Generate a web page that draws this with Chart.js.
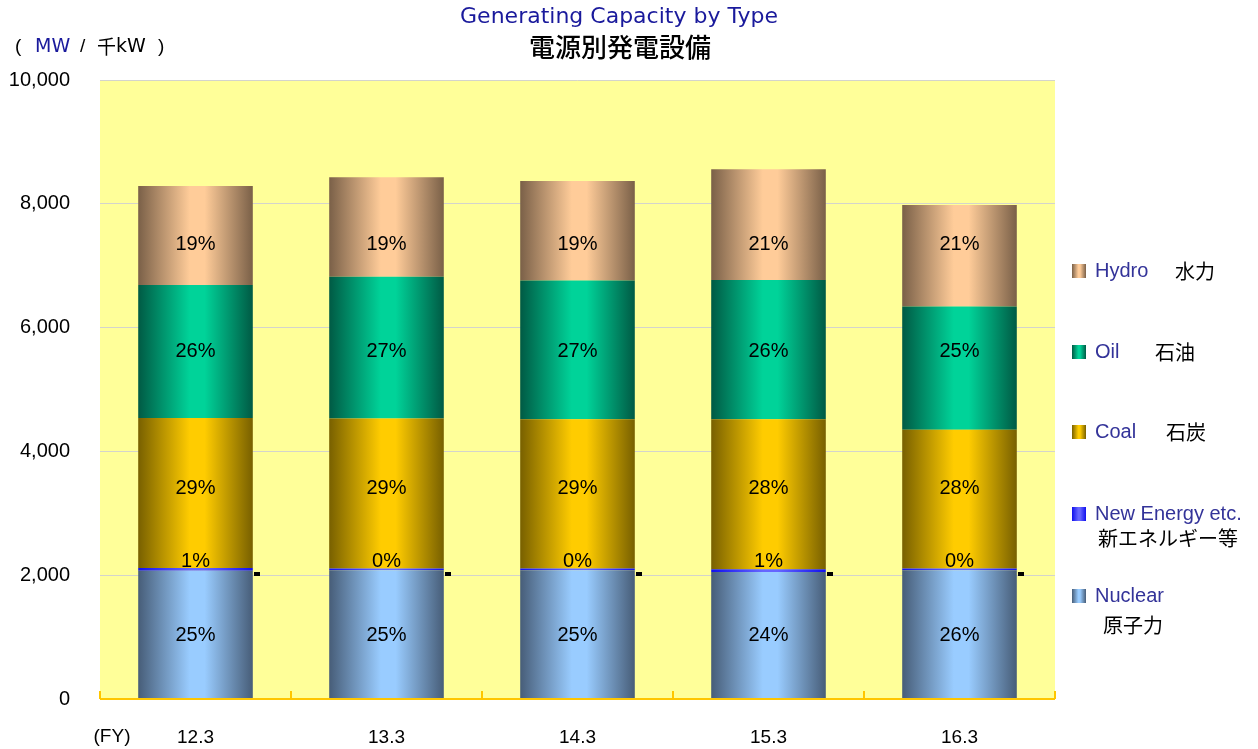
<!DOCTYPE html>
<html>
<head>
<meta charset="utf-8">
<script src="https://cdn.jsdelivr.net/npm/chart.js@4/dist/chart.umd.min.js"></script>
<style>
  body { margin: 0; background: #fff; }
  canvas { display: block; }
</style>
</head>
<body>
<canvas id="myChart" width="1258" height="749"></canvas>
<script>
// fiscal years (end of March)
const years = ['12.3', '13.3', '14.3', '15.3', '16.3'];

// generating capacity, MW
const nuclear   = [2070, 2080, 2080, 2050, 2080];
const newEnergy = [45, 30, 30, 45, 30];
const coal      = [2425, 2420, 2410, 2425, 2240];
const oil       = [2148, 2290, 2240, 2250, 1990];
const hydro     = [1600, 1610, 1610, 1790, 1640];

const yTicks = [0, 2000, 4000, 6000, 8000, 10000];

const totals = years.map((_, i) => nuclear[i] + newEnergy[i] + coal[i] + oil[i] + hydro[i]);

const FONT = '"Liberation Sans", Arial, sans-serif';
const WFONT = '"DejaVu Sans", sans-serif';
const JFONT = '"Noto Sans CJK JP", sans-serif';

// dark edge / bright centre, gives the bars a cylinder look
function shade(g, dark, light) {
  g.addColorStop(0, dark);
  g.addColorStop(0.45, light);
  g.addColorStop(0.58, light);
  g.addColorStop(1, dark);
  return g;
}

function cylinder(dark, light) {
  return function (context) {
    const chart = context.chart;
    const area = chart.chartArea;
    if (!area || context.type !== 'data') return light;
    const x = chart.scales.x.getPixelForValue(context.dataIndex);
    const half = (area.width / years.length) * 0.6 / 2;
    const g = chart.ctx.createLinearGradient(x - half, 0, x + half, 0);
    return shade(g, dark, light);
  };
}

const series = [
  { label: 'Nuclear', jp: '原子力', data: nuclear, dark: '#475d78', light: '#99ccff' },
  { label: 'New Energy etc.', jp: '新エネルギー等', data: newEnergy, dark: '#1010ee', light: '#6666ff' },
  { label: 'Coal', jp: '石炭', data: coal, dark: '#786000', light: '#ffcc00' },
  { label: 'Oil', jp: '石油', data: oil, dark: '#005a44', light: '#00d399' },
  { label: 'Hydro', jp: '水力', data: hydro, dark: '#7a6048', light: '#ffcc99' }
];

// value height where each series' percentage is written
const labelLevels = [1020, 2220, 3400, 5620, 7350];

// legend rows: swatch/English line centre, Japanese position
const legendRows = [
  { s: 4, y: 271, jx: 1175, jy: 271 },
  { s: 3, y: 352, jx: 1155, jy: 352 },
  { s: 2, y: 432, jx: 1166, jy: 432 },
  { s: 1, y: 514, jx: 1098, jy: 538 },
  { s: 0, y: 596, jx: 1103, jy: 625 }
];

const decorations = {
  id: 'decorations',
  beforeDraw(chart) {
    const { ctx, chartArea: a } = chart;
    ctx.save();
    ctx.fillStyle = '#ffff99';
    ctx.fillRect(a.left, a.top, a.right - a.left, a.bottom - a.top);
    ctx.restore();
  },
  afterDatasetsDraw(chart) {
    const { ctx, chartArea: a, scales } = chart;
    const x = scales.x, y = scales.y;
    ctx.save();

    // bottom axis with upward tick marks between categories
    ctx.strokeStyle = '#ffc600';
    ctx.lineWidth = 2;
    ctx.beginPath();
    ctx.moveTo(a.left, a.bottom);
    ctx.lineTo(a.right, a.bottom);
    for (let i = 0; i <= years.length; i++) {
      const px = Math.round(x.getPixelForValue(i - 0.5));
      ctx.moveTo(px, a.bottom);
      ctx.lineTo(px, a.bottom - 8);
    }
    ctx.stroke();

    // small black marks at the right of each bar
    const bars = chart.getDatasetMeta(0).data;
    ctx.fillStyle = '#000';
    bars.forEach(b => {
      ctx.fillRect(Math.round(b.x + b.width / 2) + 1, Math.round(y.getPixelForValue(2020)) - 2, 6, 4);
    });

    // percentage labels
    ctx.font = '20px ' + FONT;
    ctx.textAlign = 'center';
    ctx.textBaseline = 'middle';
    ctx.fillStyle = '#000';
    series.forEach((s, si) => {
      const meta = chart.getDatasetMeta(si);
      meta.data.forEach((b, i) => {
        const pct = Math.round(s.data[i] / totals[i] * 100);
        ctx.fillText(pct + '%', b.x, y.getPixelForValue(labelLevels[si]));
      });
    });

    ctx.restore();
  },
  afterDraw(chart) {
    const { ctx } = chart;
    ctx.save();
    ctx.textBaseline = 'middle';

    // titles
    ctx.textAlign = 'center';
    ctx.fillStyle = '#1a1a9c';
    ctx.font = '22px ' + WFONT;
    ctx.fillText('Generating Capacity by Type', 619, 17);
    ctx.fillStyle = '#000';
    ctx.font = '500 26px ' + JFONT;
    ctx.fillText('電源別発電設備', 620, 47);

    // unit label
    ctx.textAlign = 'left';
    ctx.font = '19px ' + FONT;
    ctx.fillStyle = '#000';
    ctx.fillText('(', 15, 47);
    ctx.fillStyle = '#1a1a9c';
    ctx.font = '19px ' + WFONT;
    ctx.fillText('MW', 35, 47);
    ctx.fillStyle = '#000';
    ctx.font = '19px ' + FONT;
    ctx.fillText('/', 80, 47);
    ctx.font = '19px ' + JFONT;
    ctx.fillText('千', 97, 47);
    ctx.font = '19px ' + WFONT;
    ctx.fillText('kW', 116, 47);
    ctx.font = '19px ' + FONT;
    ctx.fillText(')', 158, 47);

    // fiscal year marker
    ctx.textAlign = 'center';
    ctx.font = '19px ' + FONT;
    ctx.fillText('(FY)', 112, 737);

    // legend
    legendRows.forEach(r => {
      const s = series[r.s];
      const g = ctx.createLinearGradient(1072, 0, 1086, 0);
      ctx.fillStyle = shade(g, s.dark, s.light);
      ctx.fillRect(1072, r.y - 7, 14, 14);
      ctx.textAlign = 'left';
      ctx.fillStyle = '#333399';
      ctx.font = '20px ' + FONT;
      ctx.fillText(s.label, 1095, r.y);
      ctx.fillStyle = '#000';
      ctx.font = '20px ' + JFONT;
      ctx.fillText(s.jp, r.jx, r.jy);
    });

    ctx.restore();
  }
};

new Chart(document.getElementById('myChart'), {
  type: 'bar',
  data: {
    labels: years,
    datasets: series.map(s => ({
      label: s.label,
      data: s.data,
      backgroundColor: cylinder(s.dark, s.light),
      borderWidth: 0,
      barPercentage: 0.6,
      categoryPercentage: 1
    }))
  },
  options: {
    responsive: false,
    animation: false,
    locale: 'en-US',
    layout: { padding: { top: 80, right: 203, left: 0, bottom: 0 } },
    plugins: {
      legend: { display: false },
      title: { display: false },
      tooltip: { enabled: false }
    },
    scales: {
      x: {
        stacked: true,
        grid: { display: false },
        border: { display: false },
        ticks: { color: '#000', font: { family: FONT, size: 19 }, padding: 19 },
        afterFit(scale) { scale.height = 50; }
      },
      y: {
        stacked: true,
        min: 0,
        max: 10000,
        afterBuildTicks(scale) { scale.ticks = yTicks.map(v => ({ value: v })); },
        grid: { color: '#d4d4cc', drawTicks: false },
        border: { display: false },
        ticks: { color: '#000', font: { family: FONT, size: 20 }, padding: 30 },
        afterFit(scale) { scale.width = 100; }
      }
    }
  },
  plugins: [decorations]
});
</script>
</body>
</html>
